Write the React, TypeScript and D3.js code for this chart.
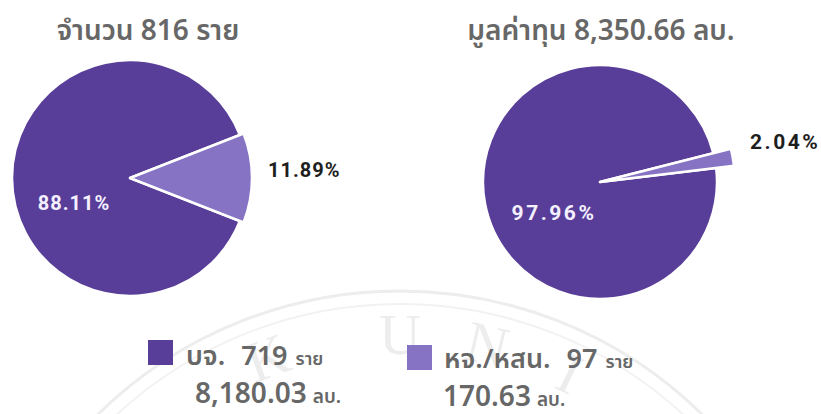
import React from "react";
import * as d3 from "d3";

const categories = ["บจ.", "หจ./หสน."];
const countValues = [719, 97];
const capitalValues = [8180.03, 170.63];
const titleCount = "จำนวน 816 ราย";
const titleCapital = "มูลค่าทุน 8,350.66 ลบ.";
const unitCount = "ราย";
const unitCapital = "ลบ.";
const colors = ["#583e98", "#8673c4"];
const watermark = "BANGKOK UNIVERSITY";

const W = 821;
const H = 414;
const THAI = "'Noto Sans Thai', 'Noto Sans Thai Looped', 'Loma', 'Garuda', 'Noto Sans', sans-serif";
const NUM = "'Roboto', 'Noto Sans', sans-serif";

type PieSpec = {
  values: number[];
  cx: number;
  cy: number;
  r: number;
  rSmall: number;
  startDeg: number;
  fontSize: number;
  spacing: number;
  inLabel: { x: number; y: number };
  outLabel: { x: number; y: number };
};

function Pie({ spec }: { spec: PieSpec }) {
  const total = d3.sum(spec.values);
  const a0 = (spec.startDeg * Math.PI) / 180;
  const pie = d3
    .pie<number>()
    .sort(null)
    .value((d) => d)
    .startAngle(a0)
    .endAngle(a0 + 2 * Math.PI);
  const arcs = pie(spec.values);
  const fmt = (v: number) => ((v / total) * 100).toFixed(2) + "%";
  return (
    <g transform={`translate(${spec.cx},${spec.cy})`}>
      {arcs.map((a, i) => {
        const arcGen = d3
          .arc<d3.PieArcDatum<number>>()
          .innerRadius(0)
          .outerRadius(i === 0 ? spec.r : spec.rSmall);
        return (
          <path
            key={i}
            d={arcGen(a) || ""}
            fill={colors[i]}
            stroke="#ffffff"
            strokeWidth={2.5}
            strokeLinejoin="round"
          />
        );
      })}
      <text
        x={spec.inLabel.x}
        y={spec.inLabel.y}
        fill="#f4f0ff"
        fontFamily={NUM}
        fontWeight={700}
        fontSize={spec.fontSize}
        letterSpacing={spec.spacing}
        textAnchor="middle"
        dominantBaseline="central"
      >
        {fmt(spec.values[0])}
      </text>
      <text
        x={spec.outLabel.x}
        y={spec.outLabel.y}
        fill="#1e1e1e"
        fontFamily={NUM}
        fontWeight={700}
        fontSize={spec.fontSize}
        letterSpacing={spec.spacing}
        textAnchor="start"
        dominantBaseline="central"
      >
        {fmt(spec.values[1])}
      </text>
    </g>
  );
}

export default function App() {
  const left: PieSpec = {
    values: countValues,
    cx: 130,
    cy: 178,
    r: 118,
    rSmall: 122,
    startDeg: 90 + (countValues[1] / d3.sum(countValues)) * 180,
    fontSize: 20,
    spacing: 1,
    inLabel: { x: -56, y: 25 },
    outLabel: { x: 138, y: -8 },
  };
  const right: PieSpec = {
    values: capitalValues,
    cx: 600,
    cy: 182,
    r: 117,
    rSmall: 135,
    startDeg: 79.4 + (capitalValues[1] / d3.sum(capitalValues)) * 180,
    fontSize: 21,
    spacing: 2.5,
    inLabel: { x: -46, y: 31 },
    outLabel: { x: 150, y: -40 },
  };

  const wmCx = 400;
  const wmCy = 722;
  const wmR = 368;
  const ringPath = (r: number) =>
    d3.arc()({ innerRadius: r, outerRadius: r, startAngle: -Math.PI, endAngle: Math.PI }) || "";

  // watermark letters placed around a ring; "U" sits at the top
  const uIndex = watermark.indexOf("U");
  const step = 13;
  const letters = watermark
    .split("")
    .map((ch, i) => {
      const rel = i - uIndex;
      const ang = rel < 0 ? (rel + 1) * step - 7 : rel * step;
      return { ch, ang };
    })
    .filter((l) => l.ch !== " " && wmCy - (wmR - 18) * Math.cos((l.ang * Math.PI) / 180) < H);

  const legend = [
    { x: 148, y: 340, sq: 25, line1: categories[0], n: countValues[0], v: capitalValues[0], tx: 186, b1: 365, tx2: 195, b2: 403 },
    { x: 407, y: 345, sq: 25, line1: categories[1], n: countValues[1], v: capitalValues[1], tx: 444, b1: 368, tx2: 443, b2: 406 },
  ];

  return (
    <svg
      width={W}
      height={H}
      viewBox={`0 0 ${W} ${H}`}
      style={{ position: "absolute", left: 0, top: 0, background: "#ffffff" }}
    >
      {/* faint watermark */}
      <g transform={`translate(${wmCx},${wmCy})`}>
        <path d={ringPath(431)} fill="none" stroke="#ededed" strokeWidth={3} />
        <path d={ringPath(418)} fill="none" stroke="#f2f2f2" strokeWidth={2} />
        {letters.map((l, i) => (
          <text
            key={i}
            transform={`rotate(${l.ang}) translate(0,${-wmR})`}
            textAnchor="middle"
            fontFamily="'Liberation Serif', 'DejaVu Serif', serif"
            fontSize={58}
            fill="#ededed"
          >
            {l.ch}
          </text>
        ))}
      </g>

      <text x={148} y={40} textAnchor="middle" fontFamily={THAI} fontWeight={600} fontSize={28} fill="#676767">
        {titleCount}
      </text>
      <text x={601} y={40} textAnchor="middle" fontFamily={THAI} fontWeight={600} fontSize={28} fill="#676767">
        {titleCapital}
      </text>

      <Pie spec={left} />
      <Pie spec={right} />

      {legend.map((l, i) => (
        <g key={i}>
          <rect x={l.x} y={l.y} width={l.sq} height={l.sq} fill={colors[i]} />
          <text x={l.tx} y={l.b1} fontFamily={THAI} fontWeight={600} fill="#676767">
            <tspan fontSize={27}>{l.line1}</tspan>
            <tspan fontSize={27} dx={16}>{l.n}</tspan>
            <tspan fontSize={18} dx={8}>{unitCount}</tspan>
          </text>
          <text x={l.tx2} y={l.b2} fontFamily={THAI} fontWeight={600} fill="#676767">
            <tspan fontSize={28}>{d3.format(",.2f")(l.v)}</tspan>
            <tspan fontSize={19} dx={6}>{unitCapital}</tspan>
          </text>
        </g>
      ))}
    </svg>
  );
}
